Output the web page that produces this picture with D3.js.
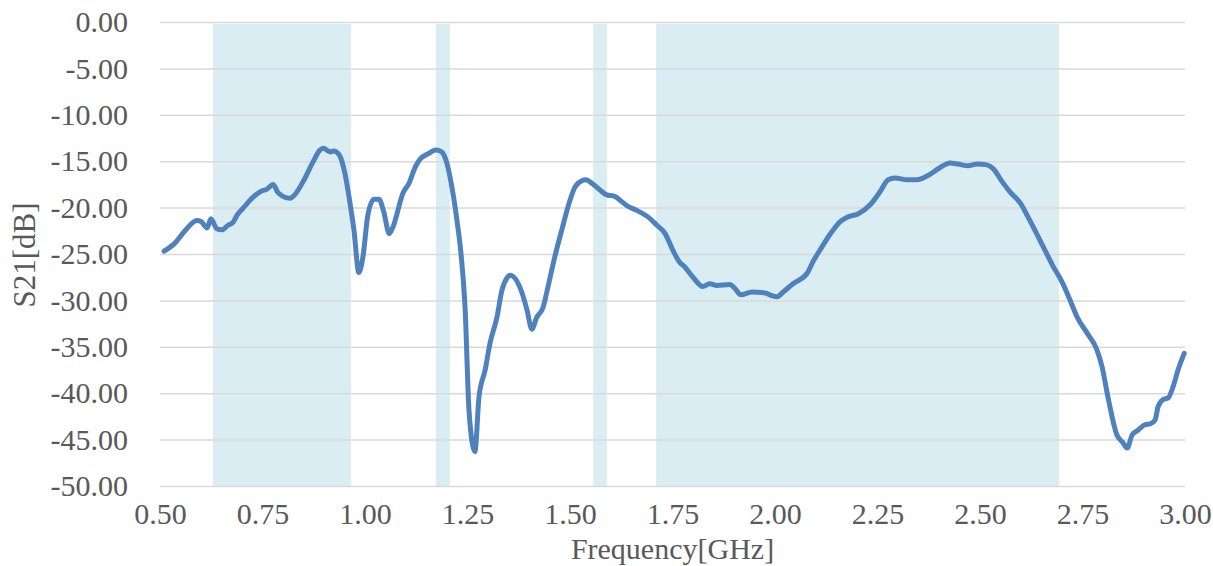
<!DOCTYPE html>
<html>
<head>
<meta charset="utf-8">
<script src="https://cdn.jsdelivr.net/npm/d3@7"></script>
<style>
  body { margin: 0; background: #fff; }
  svg text { font-family: "Liberation Serif", "Times New Roman", serif; fill: #595959; }
  .grid line { stroke: #d9d9d9; stroke-width: 1.5; }
  .grid path { display: none; }
  .axis path, .axis line { display: none; }
</style>
</head>
<body>
<svg id="chart"></svg>
<script>
// frequency in GHz
const freq = [
  0.51, 0.537, 0.561, 0.59, 0.60, 0.615, 0.624, 0.639, 0.651, 0.666, 0.678, 0.688, 0.702, 0.724,
  0.744, 0.761, 0.776, 0.788, 0.817, 0.829, 0.849, 0.873, 0.890, 0.898, 0.915, 0.924, 0.937, 0.951,
  0.963, 0.973, 0.985, 0.995, 1.007, 1.022, 1.034, 1.046, 1.059, 1.068, 1.093, 1.107, 1.122, 1.134,
  1.154, 1.173, 1.187, 1.199, 1.212, 1.224, 1.234, 1.244, 1.254, 1.268, 1.278, 1.293, 1.305, 1.322,
  1.334, 1.346, 1.354, 1.383, 1.395, 1.407, 1.419, 1.434, 1.446, 1.463, 1.480, 1.500, 1.512, 1.529,
  1.539, 1.554, 1.573, 1.588, 1.610, 1.622, 1.639, 1.663, 1.690, 1.712, 1.732, 1.751, 1.766, 1.780,
  1.800, 1.824, 1.841, 1.858, 1.890, 1.902, 1.917, 1.944, 1.976, 1.993, 2.005, 2.020, 2.044, 2.078,
  2.093, 2.115, 2.134, 2.159, 2.178, 2.202, 2.232, 2.256, 2.276, 2.293, 2.322, 2.346, 2.371, 2.402,
  2.427, 2.446, 2.471, 2.493, 2.517, 2.532, 2.554, 2.573, 2.598, 2.617, 2.630, 2.654, 2.678, 2.700,
  2.720, 2.737, 2.761, 2.785, 2.798, 2.812, 2.834, 2.848, 2.859, 2.871, 2.885, 2.902, 2.915, 2.927,
  2.934, 2.946, 2.959, 2.971, 2.983, 2.998
];
// S21 in dB
const s21 = [
  -24.7, -23.8, -22.5, -21.4, -21.5, -22.2, -21.2, -22.3, -22.4, -21.9, -21.6, -20.8, -20.1, -19.0,
  -18.3, -18.0, -17.5, -18.4, -19.0, -18.6, -17.2, -15.1, -13.8, -13.6, -14.0, -13.9, -14.3, -16.3,
  -19.4, -22.4, -27.0, -25.3, -20.8, -19.1, -19.1, -20.5, -22.8, -22.1, -18.4, -17.4, -15.7, -14.8,
  -14.2, -13.8, -14.0, -15.1, -17.8, -21.3, -24.9, -30.7, -42.1, -46.3, -40.4, -37.5, -34.6, -31.8,
  -28.9, -27.6, -27.3, -29.2, -31.0, -33.1, -31.8, -30.8, -28.6, -25.3, -22.4, -19.2, -17.8, -17.1,
  -17.0, -17.4, -18.1, -18.6, -18.8, -19.2, -19.8, -20.3, -21.0, -21.9, -22.8, -24.6, -25.8, -26.4,
  -27.5, -28.5, -28.2, -28.4, -28.3, -28.7, -29.4, -29.1, -29.2, -29.5, -29.6, -29.1, -28.2, -27.1,
  -25.8, -24.2, -22.9, -21.5, -21.0, -20.7, -19.7, -18.3, -17.0, -16.8, -17.0, -17.0, -16.6, -15.7,
  -15.2, -15.3, -15.5, -15.3, -15.4, -15.8, -17.2, -18.3, -19.5, -21.0, -22.1, -24.2, -26.3, -28.0,
  -30.0, -31.8, -33.5, -35.3, -37.2, -40.4, -44.5, -45.3, -45.9, -44.5, -44.0, -43.4, -43.3, -42.9,
  -41.5, -40.7, -40.5, -39.3, -37.5, -35.7
];
// shaded frequency bands
const bandStart = [0.629, 1.173, 1.556, 1.710];
const bandEnd   = [0.966, 1.207, 1.590, 2.693];
const xTicks = [0.5, 0.75, 1.0, 1.25, 1.5, 1.75, 2.0, 2.25, 2.5, 2.75, 3.0];
const yTicks = [0, -5, -10, -15, -20, -25, -30, -35, -40, -45, -50];

const W = 1213, H = 566;
const margin = {top: 22, right: 28, bottom: 80, left: 160};
const width = W - margin.left - margin.right;
const height = H - margin.top - margin.bottom;

// plain hyphen as minus, like the original
const fmt = d => d.toFixed(2);

const svg = d3.select('#chart').attr('width', W).attr('height', H);
const g = svg.append('g').attr('transform', `translate(${margin.left},${margin.top})`);

const x = d3.scaleLinear().domain([0.5, 3.0]).range([0, width]);
const y = d3.scaleLinear().domain([-50, 0]).range([height, 0]);

// bands
g.selectAll('rect.band')
  .data(d3.zip(bandStart, bandEnd))
  .enter().append('rect')
  .attr('class', 'band')
  .attr('x', d => x(d[0]))
  .attr('width', d => x(d[1]) - x(d[0]))
  .attr('y', y(-0.2))
  .attr('height', y(-50) - y(-0.2))
  .attr('fill', '#daedf3');

// horizontal grid
g.append('g').attr('class', 'grid')
  .call(d3.axisLeft(y).tickValues(yTicks).tickSize(-width).tickFormat(''));

// axes (labels only)
g.append('g').attr('class', 'axis y')
  .call(d3.axisLeft(y).tickValues(yTicks).tickSize(0).tickPadding(32).tickFormat(fmt))
  .selectAll('text').style('font-size', '30px');

g.append('g').attr('class', 'axis x')
  .attr('transform', `translate(0,${height})`)
  .call(d3.axisBottom(x).tickValues(xTicks).tickSize(0).tickPadding(17).tickFormat(fmt))
  .selectAll('text').style('font-size', '30px');

svg.selectAll('.axis').attr('font-family', null).attr('font-size', null);

// data line
const line = d3.line()
  .x((d, i) => x(freq[i]))
  .y(d => y(d))
  .curve(d3.curveMonotoneX);

g.append('path')
  .datum(s21)
  .attr('d', line)
  .attr('fill', 'none')
  .attr('stroke', '#4f81bd')
  .attr('stroke-width', 5)
  .attr('stroke-linejoin', 'round')
  .attr('stroke-linecap', 'round');

// axis titles
svg.append('text')
  .attr('x', margin.left + width / 2)
  .attr('y', 559)
  .attr('text-anchor', 'middle')
  .style('font-size', '30px')
  .text('Frequency[GHz]');

svg.append('text')
  .attr('transform', `translate(35,255) rotate(-90)`)
  .attr('text-anchor', 'middle')
  .style('font-size', '31px')
  .text('S21[dB]');
</script>
</body>
</html>
